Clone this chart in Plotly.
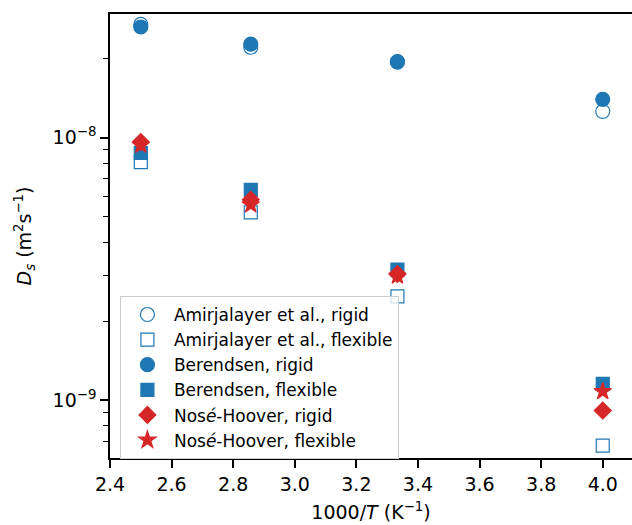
import plotly.graph_objects as go

# Inverse temperature, 1000/T (K^-1), for T = 400, 350, 300, 250 K
inv_T = [1000 / 400, 1000 / 350, 1000 / 300, 1000 / 250]

# Self-diffusion coefficients D_s (m^2 s^-1)
amir_rigid = [2.70e-8, 2.21e-8, 1.94e-8, 1.26e-8]
amir_flexible = [8.08e-9, 5.20e-9, 2.49e-9, 6.73e-10]
beren_rigid = [2.64e-8, 2.27e-8, 1.95e-8, 1.40e-8]
beren_flexible = [8.75e-9, 6.33e-9, 3.15e-9, 1.157e-9]
nh_rigid = [9.63e-9, 5.81e-9, 3.03e-9, 9.16e-10]
nh_flexible = [9.38e-9, 5.56e-9, 2.98e-9, 1.082e-9]

x_ticks = [2.4, 2.6, 2.8, 3.0, 3.2, 3.4, 3.6, 3.8, 4.0]
y_major = [1e-9, 1e-8]
y_major_text = ["10<sup>−9</sup>", "10<sup>−8</sup>"]
y_minor = [6e-10, 7e-10, 8e-10, 9e-10,
           2e-9, 3e-9, 4e-9, 5e-9, 6e-9, 7e-9, 8e-9, 9e-9,
           2e-8, 3e-8]

BLUE = "#1f77b4"
RED = "#d62728"
FONT = "DejaVu Sans"

series = [
    ("Amirjalayer et al., rigid", amir_rigid, "circle-open", 14, BLUE),
    ("Amirjalayer et al., flexible", amir_flexible, "square-open", 13, BLUE),
    ("Berendsen, rigid", beren_rigid, "circle", 14, BLUE),
    ("Berendsen, flexible", beren_flexible, "square", 13, BLUE),
    ("Nos<i>é</i>-Hoover, rigid", nh_rigid, "diamond", 13, RED),
    ("Nos<i>é</i>-Hoover, flexible", nh_flexible, "star", 13, RED),
]

fig = go.Figure()
for name, vals, symbol, size, color in series:
    fig.add_trace(go.Scatter(
        x=inv_T, y=vals, mode="markers", name=name,
        marker=dict(symbol=symbol, size=size, color=color,
                    line=dict(color=color, width=1.2)),
    ))

fig.update_layout(
    width=632, height=525,
    margin=dict(l=110, r=0, t=14, b=67),
    paper_bgcolor="white", plot_bgcolor="white",
    font=dict(family=FONT, size=19, color="black"),
    showlegend=True,
    legend=dict(
        x=0.019, y=0.365, xanchor="left", yanchor="top",
        bgcolor="rgba(255,255,255,0.8)", bordercolor="#cccccc", borderwidth=1,
        font=dict(family=FONT, size=17, color="black"),
        itemsizing="trace", itemwidth=43, tracegroupgap=0,
    ),
)

fig.update_xaxes(
    range=[2.4, 4.095],
    tickmode="array", tickvals=x_ticks,
    ticktext=[f"{v:.1f}" for v in x_ticks],
    ticks="outside", ticklen=8, tickwidth=1.5, tickcolor="black",
    showline=True, linecolor="black", linewidth=1.6, mirror=True,
    showgrid=False, zeroline=False,
    title=dict(text="1000/<i>T</i> (K<sup>−1</sup>)", standoff=12,
               font=dict(size=19)),
)

fig.update_yaxes(
    type="log",
    range=[-9.219, -7.529],
    tickmode="array", tickvals=y_major, ticktext=y_major_text,
    ticks="outside", ticklen=8, tickwidth=1.5, tickcolor="black",
    minor=dict(tickmode="array", tickvals=y_minor, ticks="outside",
               ticklen=5, tickwidth=1.2, tickcolor="black", showgrid=False),
    showline=True, linecolor="black", linewidth=1.6, mirror=False,
    showgrid=False, zeroline=False,
    title=dict(text="<i>D</i><sub><i>s</i></sub> (m<sup>2</sup>s<sup>−1</sup>)",
               standoff=16, font=dict(size=19)),
)

fig.write_html("out.html")
